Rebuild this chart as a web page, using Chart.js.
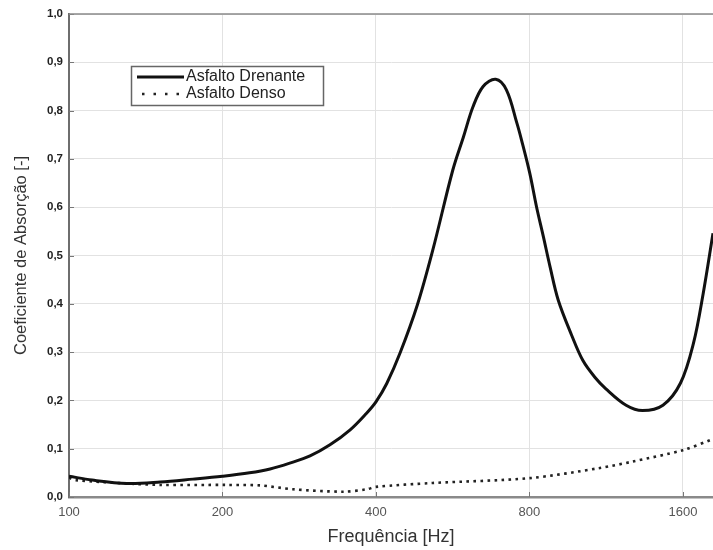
<!DOCTYPE html>
<html>
<head>
<meta charset="utf-8">
<script src="https://cdn.jsdelivr.net/npm/chart.js@4/dist/chart.umd.min.js"></script>
<style>
  html, body { margin: 0; padding: 0; background: #fff; }
  #wrap { width: 713px; height: 550px; }
</style>
</head>
<body>
<div id="wrap"><canvas id="absChart"></canvas></div>
<script>
// Frequency (Hz) and absorption coefficient
const freqDrenante = [100, 111, 130, 151, 175, 200, 226, 248, 271, 297, 325, 356, 383, 400, 420, 446, 482, 517, 566, 594, 620, 649, 687, 721, 756, 772, 801, 826, 852, 878, 911, 968, 1018, 1075, 1130, 1238, 1333, 1462, 1583, 1678, 1754, 1833];
const absDrenante  = [0.043, 0.035, 0.028, 0.031, 0.037, 0.043, 0.050, 0.058, 0.070, 0.085, 0.108, 0.139, 0.173, 0.197, 0.235, 0.298, 0.397, 0.511, 0.677, 0.746, 0.808, 0.850, 0.865, 0.843, 0.774, 0.739, 0.671, 0.601, 0.539, 0.477, 0.408, 0.335, 0.283, 0.248, 0.224, 0.190, 0.179, 0.190, 0.236, 0.318, 0.422, 0.546];

const freqDenso = [100, 103, 130, 151, 204, 237, 275, 345, 384, 400, 517, 800, 1100, 1270, 1600, 1833];
const absDenso  = [0.040, 0.035, 0.028, 0.025, 0.025, 0.024, 0.016, 0.011, 0.016, 0.021, 0.029, 0.039, 0.060, 0.073, 0.097, 0.120];

const xTicks = [100, 200, 400, 800, 1600];
const xMin = 100;
const xMax = 1833;

const seriesNames = ['Asfalto Drenante', 'Asfalto Denso'];

const FONT = '"Liberation Sans", Arial, Helvetica, sans-serif';

function toPoints(xs, ys) {
  return xs.map((x, i) => ({ x: x, y: ys[i] }));
}

// Frame, inner tick marks and the boxed legend (MATLAB style)
const decorations = {
  id: 'decorations',
  afterDatasetsDraw(chart) {
    const { ctx, chartArea: a, scales } = chart;
    ctx.save();
    // inner tick marks
    ctx.strokeStyle = '#777';
    ctx.lineWidth = 1;
    scales.y.ticks.forEach(t => {
      const y = Math.round(scales.y.getPixelForValue(t.value)) + 0.5;
      ctx.beginPath(); ctx.moveTo(a.left, y); ctx.lineTo(a.left + 5, y); ctx.stroke();
    });
    scales.x.ticks.forEach(t => {
      const x = Math.round(scales.x.getPixelForValue(t.value)) + 0.5;
      ctx.beginPath(); ctx.moveTo(x, a.bottom); ctx.lineTo(x, a.bottom - 5); ctx.stroke();
    });
    // top border
    ctx.strokeStyle = '#8a8a8a';
    ctx.lineWidth = 1.5;
    ctx.beginPath(); ctx.moveTo(a.left, a.top); ctx.lineTo(a.right, a.top); ctx.stroke();

    // legend box
    const bx = 131, by = 66, bw = 192, bh = 39;
    ctx.fillStyle = '#fff';
    ctx.fillRect(bx, by, bw, bh);
    ctx.strokeStyle = '#666';
    ctx.lineWidth = 1.5;
    ctx.strokeRect(bx + 0.5, by + 0.5, bw, bh);

    const rows = [77, 94];
    chart.data.datasets.forEach((ds, i) => {
      const y = rows[i];
      ctx.strokeStyle = ds.borderColor;
      ctx.lineWidth = i === 0 ? 3 : 2.5;
      ctx.setLineDash(i === 0 ? [] : [2.5, 9]);
      ctx.beginPath(); ctx.moveTo(i === 0 ? 137 : 142, y); ctx.lineTo(184, y); ctx.stroke();
      ctx.setLineDash([]);
      ctx.fillStyle = '#222';
      ctx.font = '16px ' + FONT;
      ctx.textBaseline = 'middle';
      ctx.textAlign = 'left';
      ctx.fillText(ds.label, 186, y);
    });
    ctx.restore();
  }
};

new Chart(document.getElementById('absChart'), {
  type: 'line',
  data: {
    datasets: [
      {
        label: seriesNames[0],
        data: toPoints(freqDrenante, absDrenante),
        borderColor: '#111',
        borderWidth: 3,
        pointRadius: 0,
        tension: 0.35,
        fill: false
      },
      {
        label: seriesNames[1],
        data: toPoints(freqDenso, absDenso),
        borderColor: '#222',
        borderWidth: 2.6,
        borderDash: [2.6, 4.4],
        pointRadius: 0,
        tension: 0.3,
        fill: false
      }
    ]
  },
  options: {
    responsive: true,
    maintainAspectRatio: false,
    animation: false,
    layout: { padding: { left: 12, right: 0, top: 14, bottom: 2 } },
    plugins: {
      legend: { display: false },
      tooltip: { enabled: false }
    },
    scales: {
      x: {
        type: 'logarithmic',
        min: xMin,
        max: xMax,
        afterBuildTicks: scale => { scale.ticks = xTicks.map(v => ({ value: v })); },
        afterFit: scale => { scale.height = 51; },
        grid: { color: '#e2e2e2', lineWidth: 1, drawTicks: false },
        border: { color: '#8a8a8a', width: 2.5 },
        ticks: {
          color: '#555',
          font: { family: FONT, size: 13 },
          padding: 8,
          maxRotation: 0,
          callback: v => String(v)
        },
        title: {
          display: true,
          text: 'Frequência [Hz]',
          color: '#333',
          font: { family: FONT, size: 18 },
          padding: 0
        }
      },
      y: {
        min: 0,
        max: 1,
        afterFit: scale => { scale.width = 57; },
        grid: { color: '#e2e2e2', lineWidth: 1, drawTicks: false },
        border: { color: '#6e6e6e', width: 2 },
        ticks: {
          stepSize: 0.1,
          color: '#222',
          padding: 6,
          font: { family: FONT, size: 11.5, weight: 'bold' },
          callback: v => v.toFixed(1).replace('.', ',')
        },
        title: {
          display: true,
          text: 'Coeficiente de Absorção [-]',
          color: '#333',
          font: { family: FONT, size: 16.5 },
          padding: 0
        }
      }
    }
  },
  plugins: [decorations]
});
</script>
</body>
</html>
